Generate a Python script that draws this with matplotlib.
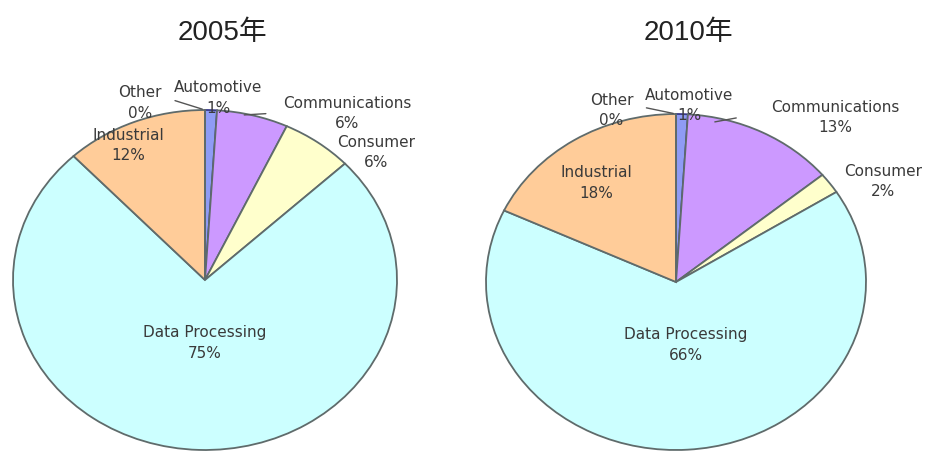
import numpy as np
import matplotlib
matplotlib.use("Agg")
import matplotlib.pyplot as plt

plt.rcParams['font.family'] = ['DejaVu Sans', 'Noto Sans CJK SC']

segments = ["Automotive", "Communications", "Consumer", "Data Processing", "Industrial", "Other"]
share_2005 = [1, 6, 6, 75, 12, 0]
share_2010 = [1, 13, 2, 66, 18, 0]
years = ["2005年", "2010年"]

colors = ["#8f9bf5", "#cc99ff", "#ffffcc", "#ccffff", "#ffcc99", "#ffffff"]

# label block centres in pie units (x: rx, y: ry), per year
label_pos = [
    {"Automotive": (0.07, 1.07), "Communications": (0.74, 0.98), "Consumer": (0.89, 0.75),
     "Data Processing": (0.0, -0.37), "Industrial": (-0.40, 0.79), "Other": (-0.34, 1.04)},
    {"Automotive": (0.07, 1.05), "Communications": (0.84, 0.98), "Consumer": (1.09, 0.60),
     "Data Processing": (0.05, -0.375), "Industrial": (-0.42, 0.59), "Other": (-0.34, 1.02)},
]

# pie centre / radii in pixels (from top-left), figure 930x453
W, H = 930, 453
geom = [(205, 280, 192, 170), (676, 282, 190, 168)]
title_x = [222, 688]

fig = plt.figure(figsize=(9.3, 4.53), dpi=100)

for i, values in enumerate([share_2005, share_2010]):
    cx, cy, rx, ry = geom[i]
    pad = 1.02
    ax = fig.add_axes([(cx - rx * pad) / W, (H - cy - ry * pad) / H,
                       2 * rx * pad / W, 2 * ry * pad / H])
    wedges, _ = ax.pie(values, colors=colors, startangle=90, counterclock=False,
                       wedgeprops=dict(edgecolor="#5f6b6b", linewidth=1.3))
    wedges[0].set_edgecolor("#3a3a8a")
    ax.set_aspect('auto')
    ax.set_xlim(-pad, pad)
    ax.set_ylim(-pad, pad)
    ax.axis('off')

    total = sum(values)
    angle = 90.0
    for name, v, w in zip(segments, values, wedges):
        sweep = 360.0 * v / total
        mid = np.deg2rad(angle - sweep / 2)
        angle -= sweep
        lx, ly = label_pos[i][name]
        ax.text(lx, ly, f"{name}\n{v}%", ha="center", va="center",
                fontsize=11, color="#3a3a3a", linespacing=1.45)
        if name in ("Other", "Automotive"):
            ex, ey = np.cos(mid), np.sin(mid)
            start = (lx + 0.17, ly + 0.02) if name == "Other" else (lx + 0.12, ly - 0.1)
            end = (ex, ey) if name == "Other" else (ex + 0.3, ey - 0.02)
            ax.annotate("", xy=end, xytext=start, annotation_clip=False,
                        arrowprops=dict(arrowstyle="-", color="#555555", lw=1.0))

    fig.text(title_x[i] / W, 1 - 33 / H, years[i], ha="center", va="center",
             fontsize=20, color="#222222",
             family=["Liberation Sans", "Noto Sans CJK SC"])

fig.savefig("out.png", dpi=100, facecolor="white")
